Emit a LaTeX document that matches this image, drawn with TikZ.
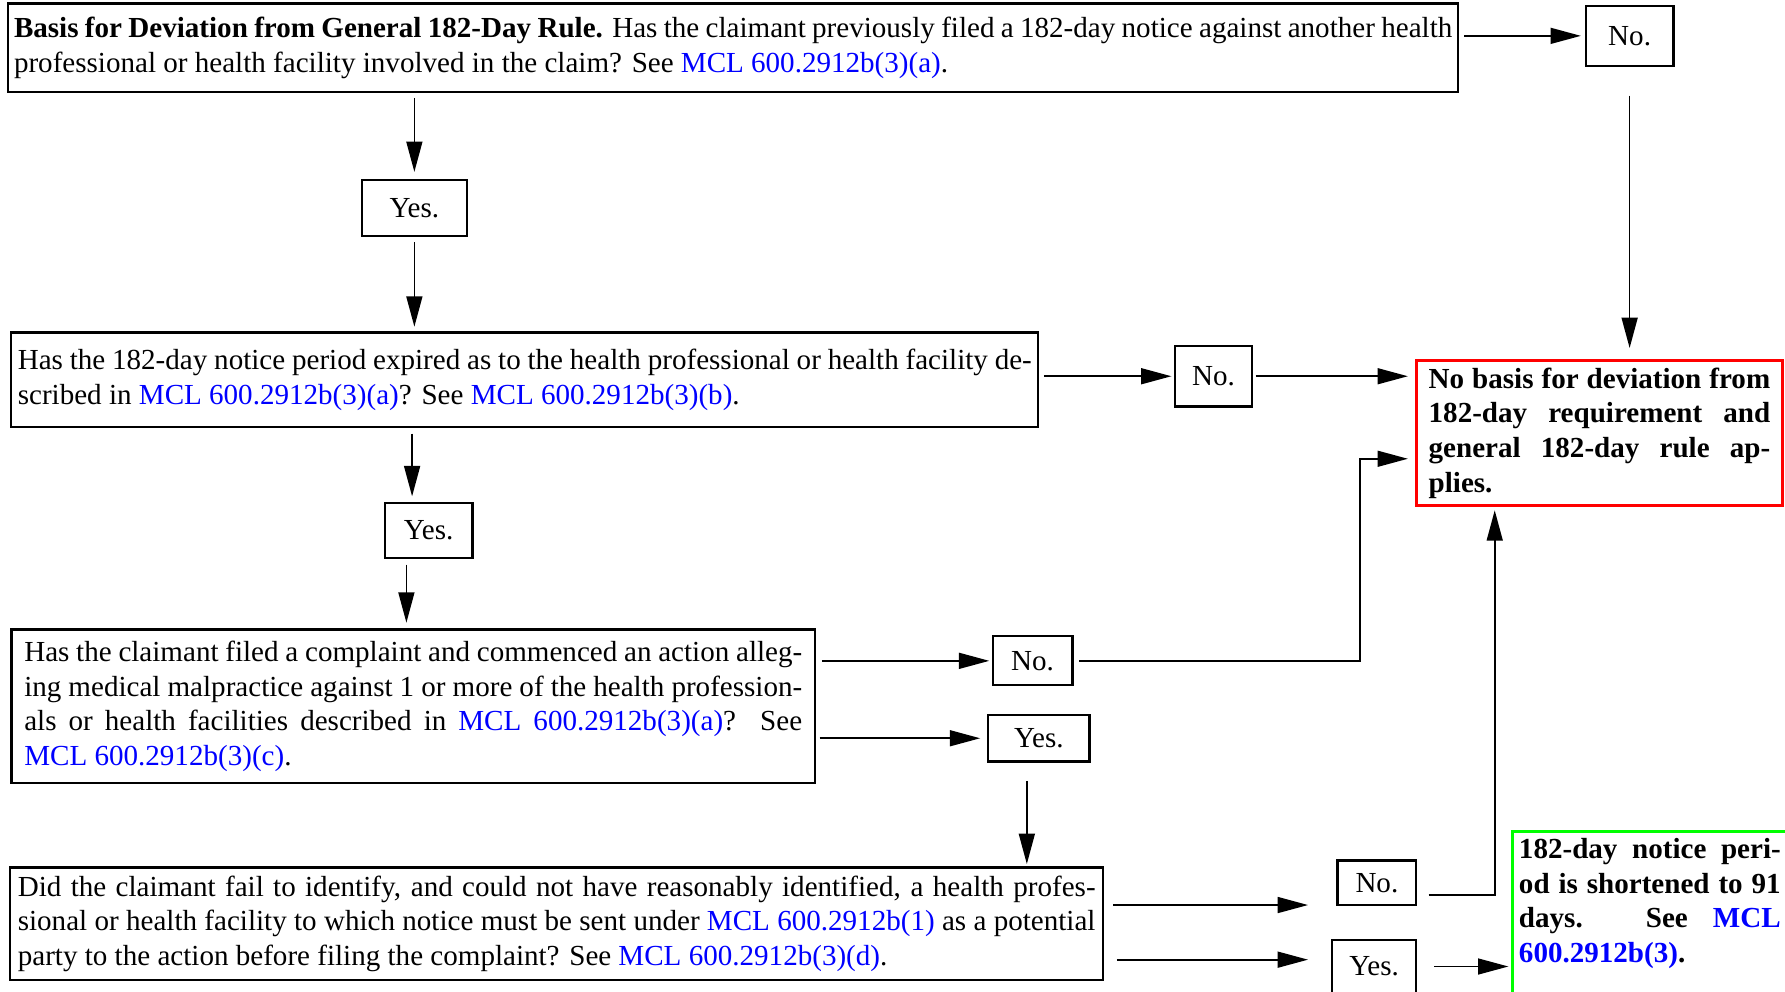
\documentclass[tikz,border=0pt]{standalone}
\usepackage{fontspec}
\setmainfont{Liberation Serif}
\usepackage{pgf,tikz}
\usetikzlibrary{arrows.meta}
\usetikzlibrary{calc}

\newcommand{\mclref}[1]{\textcolor{blue}{MCL~#1}}
\newcommand{\boxfont}{\fontsize{10.9}{13}\selectfont}

\tikzset{
  qbox/.style={draw, line width=0.85pt, align=justify, inner sep=0pt, font=\boxfont},
  ansbox/.style={draw, line width=0.85pt, inner sep=0pt, font=\boxfont},
  endbox/.style={draw, line width=1.1pt, align=justify, inner sep=0pt, font=\boxfont\bfseries},
  arr/.style={-{Triangle[length=4mm,width=2.1mm]}, line width=0.65pt}
}

\begin{document}
\begin{tikzpicture}[x=0.015cm, y=-0.015cm]%182-day rule
\useasboundingbox (0,0) rectangle (1568,871);

\node[qbox, minimum width=19.11cm, minimum height=1.17cm, text width=18.95cm] (q1) at (644,42)
  {\textbf{Basis for Deviation from General 182-Day Rule.} Has the claimant previously filed a 182-day notice against another health\linebreak professional or health facility involved in the claim? See \mclref{600.2912b(3)(a)}.};
\node[qbox, minimum width=13.53cm, minimum height=1.245cm, text width=13.36cm] (q2) at (461,333.5)
  {Has the 182-day notice period expired as to the health professional or health facility de-\linebreak scribed in \mclref{600.2912b(3)(a)}? See \mclref{600.2912b(3)(b)}.};
\node[qbox, minimum width=10.59cm, minimum height=2.025cm, text width=10.25cm] (q3) at (363,620.5)
  {Has the claimant filed a complaint and commenced an action alleg-\linebreak ing medical malpractice against 1 or more of the health profession-\linebreak als or health facilities described in \mclref{600.2912b(3)(a)}? See\linebreak \mclref{600.2912b(3)(c)}.};
\node[qbox, minimum width=14.4cm, minimum height=1.485cm, text width=14.2cm] (q4) at (489,811.5)
  {Did the claimant fail to identify, and could not have reasonably identified, a health profes-\linebreak sional or health facility to which notice must be sent under \mclref{600.2912b(1)} as a potential\linebreak party to the action before filing the complaint? See \mclref{600.2912b(3)(d)}.};

\node[endbox, draw=red, minimum width=4.83cm, minimum height=1.905cm, text width=4.5cm] (R) at (1405,380.5)
  {No basis for deviation from\linebreak 182-day requirement and\linebreak general 182-day rule ap-\linebreak plies.};
\node[endbox, draw=green, anchor=north west, inner sep=0.09cm, text width=4.2cm] (G) at (1327,729)
  {\noindent\parbox[t][3cm][t]{3.45cm}{182-day notice peri-\linebreak od is shortened to 91\linebreak days. See \textcolor{blue}{MCL}\linebreak \textcolor{blue}{600.2912b(3)}.}};

\node[ansbox, minimum width=1.155cm, minimum height=0.795cm] (n1) at (1431.5,31.5) {No.};
\node[ansbox, minimum width=1.38cm, minimum height=0.735cm] (y1) at (364,182.5) {Yes.};
\node[ansbox, minimum width=1.02cm, minimum height=0.795cm] (n2) at (1066,330.5) {No.};
\node[ansbox, minimum width=1.155cm, minimum height=0.72cm] (y2) at (376.5,466) {Yes.};
\node[ansbox, minimum width=1.05cm, minimum height=0.645cm] (n3) at (907,580.5) {No.};
\node[ansbox, minimum width=1.335cm, minimum height=0.615cm] (y3) at (912.5,648.5) {Yes.};
\node[ansbox, minimum width=1.035cm, minimum height=0.585cm] (n4) at (1209.5,775.5) {No.};
\node[ansbox, minimum width=1.11cm, minimum height=0.69cm] (y4) at (1207,849) {Yes.};

\coordinate (c7) at ($(y2.north)+(-14.5,0)$);
\coordinate (c8) at ($(y2.south)+(-19.5,0)$);
\coordinate (k10) at ($(R.west)+(0,22.5)$);
\coordinate (c12) at ($(y3.south)+(-10.5,0)$);
\coordinate (t13) at ($(n4.west)+(-25,19.5)$);
\coordinate (s14) at ($(n4.east)+(0,10.5)$);
\coordinate (k14) at ($(R.south)+(-92,0)$);
\coordinate (t15) at ($(y4.west)+(-20,-6)$);

\draw[arr, shorten <=0.06cm, shorten >=0.05cm] (q1.east |- n1) -- (n1.west);
\draw[arr, shorten <=0.375cm, shorten >=0.15cm] (n1.south) -- (R.north -| n1.south);
\draw[arr, shorten <=0.06cm, shorten >=0.09cm] (q1.south -| y1) -- (y1.north);
\draw[arr, shorten <=0.075cm, shorten >=0.06cm] (y1.south) -- (q2.north -| y1);
\draw[arr, shorten <=0.06cm, shorten >=0.03cm] (q2.east |- n2) -- (n2.west);
\draw[arr, shorten <=0.03cm, shorten >=0.09cm] (n2.east) -- (R.west |- n2);
\draw[arr, shorten <=0.075cm, shorten >=0.075cm] (q2.south -| c7) -- (c7);
\draw[arr, shorten <=0.075cm, shorten >=0.075cm] (c8) -- (q3.north -| c8);
\draw[arr, shorten <=0.075cm, shorten >=0.03cm] (q3.east |- n3) -- (n3.west);
\draw[arr, shorten <=0.075cm, shorten >=0.09cm] (n3.east) -| ($(k10)+(-48,0)$) -- (k10);
\draw[arr, shorten <=0.045cm, shorten >=0.09cm] (q3.east |- y3) -- (y3.west);
\draw[arr, shorten <=0.24cm, shorten >=0.03cm] (c12) -- (q4.north -| c12);
\draw[arr, shorten <=0.12cm] (q4.east |- t13) -- (t13);
\draw[arr, shorten <=0.15cm, shorten >=0.045cm] (s14) -| (k14);
\draw[arr, shorten <=0.165cm] (q4.east |- t15) -- (t15);
\draw[arr, shorten <=0.225cm, shorten >=0.03cm] (y4.east) -- (G.north west |- y4.east);
\end{tikzpicture}
\end{document}
